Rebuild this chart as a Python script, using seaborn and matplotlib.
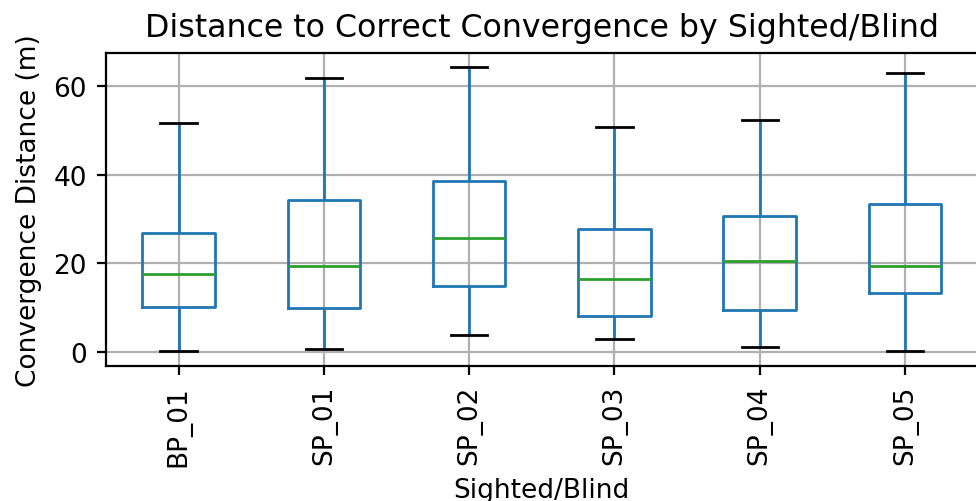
import numpy as np
import pandas as pd
import matplotlib
matplotlib.use("Agg")
import matplotlib.pyplot as plt
import seaborn as sns

groups = ["BP_01", "SP_01", "SP_02", "SP_03", "SP_04", "SP_05"]
# five-number summaries: min, Q1, median, Q3, max
bp_01 = [0.2, 10.2, 17.6, 26.8, 51.7]
sp_01 = [0.7, 9.9, 19.4, 34.3, 61.8]
sp_02 = [3.8, 14.9, 25.7, 38.6, 64.3]
sp_03 = [2.9, 8.1, 16.5, 27.7, 50.8]
sp_04 = [1.1, 9.5, 20.5, 30.7, 52.3]
sp_05 = [0.2, 13.3, 19.4, 33.4, 62.9]

series = [bp_01, sp_01, sp_02, sp_03, sp_04, sp_05]
df = pd.DataFrame({
    "Sighted/Blind": np.repeat(groups, [len(s) for s in series]),
    "dist": np.concatenate(series),
})

plt.rcParams["font.size"] = 9.5

fig = plt.figure(figsize=(4.88, 2.51), dpi=200)
ax = fig.add_axes([106 / 976, 1 - 367 / 502, (977.6 - 106) / 976, (367 - 54) / 502])

sns.boxplot(
    data=df, x="Sighted/Blind", y="dist", order=groups, ax=ax,
    fill=False, width=0.5, whis=(0, 100), linewidth=1,
    boxprops=dict(color="#1f77b4"),
    whiskerprops=dict(color="#1f77b4"),
    capprops=dict(color="black"),
    medianprops=dict(color="#2ca02c"),
    showfliers=False,
)

ax.grid(True, color="#b0b0b0", linewidth=0.8)
ax.set_axisbelow(True)
ax.set_ylim(-3.16, 67.4)
ax.set_xlim(-0.5, 5.5)
ax.set_yticks([0, 20, 40, 60])
ax.tick_params(axis="both", labelsize=9.5, length=3.4, pad=3.4)
ax.tick_params(axis="x", labelrotation=90)
ax.set_xlabel("Sighted/Blind", fontsize=9.5)
ax.set_ylabel("Convergence Distance (m)", fontsize=9.5)
ax.set_title("Distance to Correct Convergence by Sighted/Blind", fontsize=11.4)

fig.savefig("out.png", dpi=200)
